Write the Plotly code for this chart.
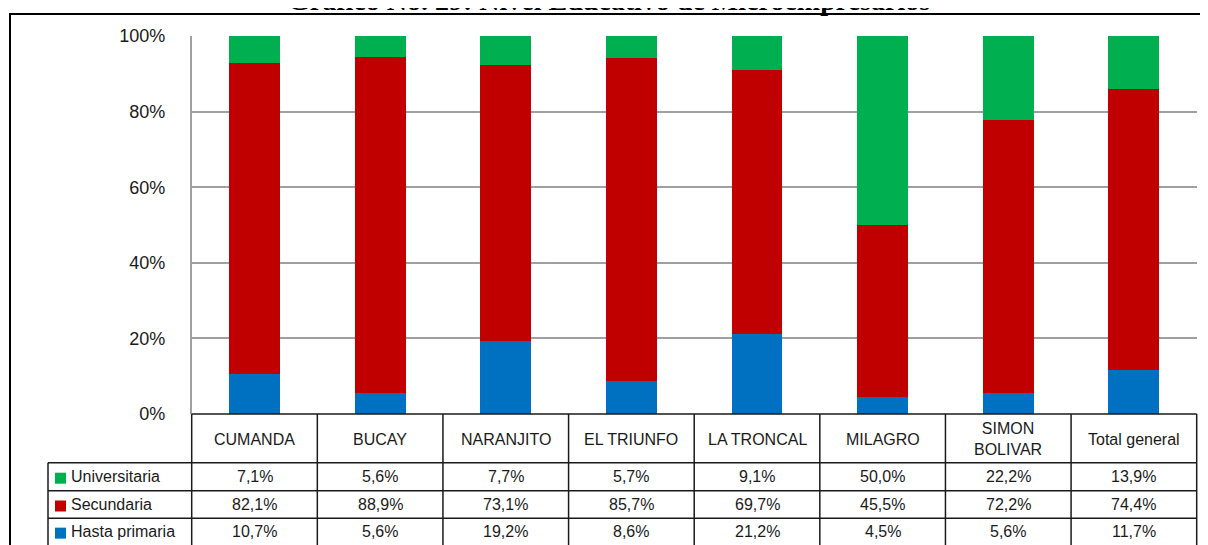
import plotly.graph_objects as go

W, H = 1208, 545
OFF = 8  # page body margin

categorias = ['CUMANDA', 'BUCAY', 'NARANJITO', 'EL TRIUNFO', 'LA TRONCAL',
              'MILAGRO', 'SIMON<br>BOLIVAR', 'Total general']
universitaria = [7.1, 5.6, 7.7, 5.7, 9.1, 50.0, 22.2, 13.9]
secundaria = [82.1, 88.9, 73.1, 85.7, 69.7, 45.5, 72.2, 74.4]
hasta_primaria = [10.7, 5.6, 19.2, 8.6, 21.2, 4.5, 5.6, 11.7]
y_ticks = [0, 20, 40, 60, 80, 100]

series = [('Universitaria', universitaria, '#00B050'),
          ('Secundaria', secundaria, '#C00000'),
          ('Hasta primaria', hasta_primaria, '#0070C0')]

# layout in screen pixels (converted to paper coords)
X0, X1 = 191.7, 1196.7   # plot area left/right
Y0, Y1 = 36, 414         # plot area top/bottom
TAB_L = 48
ROWS = [414, 462.7, 490.7, 518.3, 560]


def px(x):
    return (x - OFF) / W


def py(y):
    return 1 - (y - OFF) / H


def fmt(v):
    return f"{v:.1f}".replace('.', ',') + '%'


fig = go.Figure()
# stacked from bottom: primaria, secundaria, universitaria
for name, vals, col in reversed(series):
    fig.add_trace(go.Bar(x=list(range(len(categorias))), y=vals, name=name,
                         marker=dict(color=col, line=dict(width=0)), width=0.405))

shapes = []
annots = []
line_k = dict(color='#1a1a1a', width=1.5)

# table grid
shapes.append(dict(type='line', xref='paper', yref='paper', x0=px(X0), x1=px(X1),
                   y0=py(ROWS[0]), y1=py(ROWS[0]), line=line_k))
for r in ROWS[1:4]:
    shapes.append(dict(type='line', xref='paper', yref='paper', x0=px(TAB_L), x1=px(X1),
                       y0=py(r), y1=py(r), line=line_k))
shapes.append(dict(type='line', xref='paper', yref='paper', x0=px(TAB_L), x1=px(TAB_L),
                   y0=py(ROWS[1]), y1=py(ROWS[4]), line=line_k))
colw = (X1 - X0) / len(categorias)
for i in range(len(categorias) + 1):
    xx = X0 + i * colw
    shapes.append(dict(type='line', xref='paper', yref='paper', x0=px(xx), x1=px(xx),
                       y0=py(ROWS[0]), y1=py(ROWS[4]), line=line_k))

# outer frame
shapes.append(dict(type='line', xref='paper', yref='paper', x0=px(9), x1=px(W + 20),
                   y0=py(14), y1=py(14), line=dict(color='black', width=2)))
shapes.append(dict(type='line', xref='paper', yref='paper', x0=px(10), x1=px(10),
                   y0=py(14), y1=py(H + 20), line=dict(color='black', width=2)))

txt = dict(family='Arial, Liberation Sans', size=16, color='#1a1a1a')

for i, c in enumerate(categorias):
    cx = X0 + (i + 0.5) * colw
    annots.append(dict(x=px(cx), y=py((ROWS[0] + ROWS[1]) / 2 + 1), xref='paper', yref='paper',
                       text=c, showarrow=False, font=txt, xanchor='center', yanchor='middle'))
    for r, (name, vals, col) in enumerate(series):
        yc = (ROWS[r + 1] + min(ROWS[r + 2], 545)) / 2
        annots.append(dict(x=px(cx), y=py(yc), xref='paper', yref='paper',
                           text=fmt(vals[i]), showarrow=False, font=txt,
                           xanchor='center', yanchor='middle'))

for r, (name, vals, col) in enumerate(series):
    yc = (ROWS[r + 1] + min(ROWS[r + 2], 545)) / 2
    shapes.append(dict(type='rect', xref='paper', yref='paper', x0=px(55), x1=px(66),
                       y0=py(yc - 4), y1=py(yc + 7), fillcolor=col, line=dict(width=0)))
    annots.append(dict(x=px(69), y=py(yc), xref='paper', yref='paper', text=name,
                       showarrow=False, font=txt, xanchor='left', yanchor='middle'))

# title: only its lower edge shows above the frame, as in the source
annots.append(dict(x=px(609), y=py(1), xref='paper', yref='paper',
                   text='<b>Gráfico No. 29: Nivel Educativo de Microempresarios</b>',
                   showarrow=False, xanchor='center', yanchor='middle',
                   font=dict(family='Liberation Serif, Times New Roman', size=28, color='black')))

fig.update_layout(
    width=W, height=H, margin=dict(l=0, r=0, t=0, b=0, autoexpand=False),
    paper_bgcolor='white', plot_bgcolor='white',
    barmode='stack', barnorm='percent', showlegend=False,
    xaxis=dict(domain=[px(X0), px(X1)], range=[-0.5, len(categorias) - 0.5],
               showticklabels=False, showgrid=False, zeroline=False, ticks='',
               automargin=False),
    yaxis=dict(domain=[py(Y1), py(Y0)], range=[0, 100], tickvals=y_ticks,
               ticktext=[f'{t}%' for t in y_ticks], ticklabelstandoff=21,
               showgrid=True, gridcolor='#A0A0A0', gridwidth=1.5, automargin=False,
               showline=True, linecolor='#A0A0A0', linewidth=1.5, zeroline=False,
               tickfont=dict(family='Arial, Liberation Sans', size=18, color='#1a1a1a')),
    shapes=shapes, annotations=annots,
)

fig.write_html('out.html')
